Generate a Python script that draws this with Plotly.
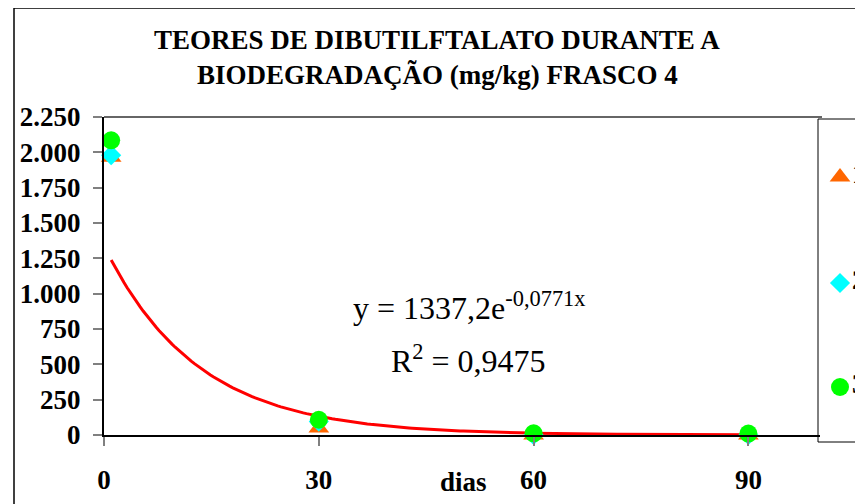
import numpy as np
import plotly.graph_objects as go

# ---- data ----
dias = [1, 30, 60, 90]
frasco_1 = [1965, 50, 0, 0]
frasco_2 = [1980, 95, 0, 0]
frasco_3 = [2085, 108, 12, 10]
series_names = ["1", "2", "3"]
fit_a = 1337.2
fit_b = -0.0771
fit_r2 = "0,9475"
x_tickvals = [0, 30, 60, 90]
x_ticktext = ["0", "30", "60", "90"]
y_tickvals = [0, 250, 500, 750, 1000, 1250, 1500, 1750, 2000, 2250]
y_ticktext = ["0", "250", "500", "750", "1.000", "1.250", "1.500", "1.750", "2.000", "2.250"]
title_lines = ["TEORES DE DIBUTILFTALATO DURANTE A", "BIODEGRADAÇÃO (mg/kg) FRASCO 4"]

# ---- layout geometry (page pixels) ----
W, H = 863, 504
OFF = 8  # default page body margin
FW, FH = W - OFF, H - OFF
L, R, T, B = 104, 820, 117, 435
FONT = "Liberation Serif"

def px(x):
    return (x - OFF) / FW

def py(y):
    return 1 - (y - OFF) / FH

fit_x = np.linspace(dias[0], dias[-1], 200)
fit_y = fit_a * np.exp(fit_b * fit_x)

fig = go.Figure()

fig.add_trace(go.Scatter(x=fit_x, y=fit_y, mode="lines",
                         line=dict(color="#ff0000", width=3),
                         showlegend=False, hoverinfo="skip"))

marker_styles = [
    dict(symbol="triangle-up", color="#ff6600", size=18),
    dict(symbol="diamond", color="#00ffff", size=15.5),
    dict(symbol="circle", color="#00ff00", size=18),
]
for name, vals, ms in zip(series_names, [frasco_1, frasco_2, frasco_3], marker_styles):
    fig.add_trace(go.Scatter(x=dias, y=vals, mode="markers", name=name,
                             marker=dict(symbol=ms["symbol"], color=ms["color"], size=ms["size"],
                                         line=dict(width=0)),
                             cliponaxis=False, showlegend=False))

# manual legend (markers + labels) in a small pixel-unit overlay axis
leg_y = [177, 283, 387]
for name, ms, ly in zip(series_names, marker_styles, leg_y):
    fig.add_trace(go.Scatter(x=[840], y=[ly], mode="markers", xaxis="x2", yaxis="y2",
                             marker=dict(symbol=ms["symbol"], color=ms["color"], size=ms["size"],
                                         line=dict(width=0)),
                             cliponaxis=False, showlegend=False, hoverinfo="skip"))
    fig.add_trace(go.Scatter(x=[852], y=[ly - 1], mode="text", xaxis="x2", yaxis="y2",
                             text=[f"<b>{name}</b>"], textposition="middle right",
                             textfont=dict(family=FONT, size=27, color="black"),
                             cliponaxis=False, showlegend=False, hoverinfo="skip"))

annotations = [
    dict(text=f"<b>{title_lines[0]}</b>", x=px(437), y=py(40), xref="paper", yref="paper",
         showarrow=False, xanchor="center", yanchor="middle", font=dict(size=27)),
    dict(text=f"<b>{title_lines[1]}</b>", x=px(437), y=py(75), xref="paper", yref="paper",
         showarrow=False, xanchor="center", yanchor="middle", font=dict(size=27)),
    dict(text="<b>dias</b>", x=px(463), y=py(482), xref="paper", yref="paper",
         showarrow=False, xanchor="center", yanchor="middle", font=dict(size=27)),
    dict(text="y = 1337,2e<sup>-0,0771x</sup>", x=px(469), y=py(306), xref="paper", yref="paper",
         showarrow=False, xanchor="center", yanchor="middle", font=dict(size=32)),
    dict(text=f"R<sup>2</sup> = {fit_r2}", x=px(468), y=py(359), xref="paper", yref="paper",
         showarrow=False, xanchor="center", yanchor="middle", font=dict(size=32)),
]

shapes = [
    # outer chart border
    dict(type="line", xref="paper", yref="paper", x0=px(14), x1=px(14), y0=py(8), y1=-0.2,
         line=dict(color="black", width=1.5)),
    dict(type="line", xref="paper", yref="paper", x0=px(14), x1=1.2, y0=py(8), y1=py(8),
         line=dict(color="black", width=1.5)),
    # top border of plot area
    dict(type="line", xref="paper", yref="paper", x0=px(L), x1=px(R + 2), y0=py(T), y1=py(T),
         line=dict(color="#333333", width=1.5)),
    # legend box
    dict(type="rect", xref="paper", yref="paper", x0=px(818), x1=1.2, y0=py(442), y1=py(119),
         line=dict(color="black", width=1), fillcolor="white", layer="below"),
]

fig.update_layout(
    width=FW, height=FH,
    margin=dict(l=0, r=0, t=0, b=0, autoexpand=False),
    paper_bgcolor="white", plot_bgcolor="rgba(0,0,0,0)",
    font=dict(family=FONT, color="black"),
    showlegend=False,
    xaxis=dict(domain=[px(L), px(R)], range=[0, 100], tickvals=x_tickvals, ticktext=x_ticktext,
               showgrid=False, zeroline=False, showline=True, linecolor="black", linewidth=2,
               ticks="outside", ticklen=9, tickwidth=2, tickcolor="#808080",
               ticklabelstandoff=11, automargin=False,
               tickfont=dict(family=FONT, size=27, color="black", weight="bold"),
               anchor="y"),
    yaxis=dict(domain=[py(B), py(T)], range=[0, 2250], tickvals=y_tickvals, ticktext=y_ticktext,
               showgrid=False, zeroline=False, showline=True, linecolor="black", linewidth=2,
               ticks="outside", ticklen=9, tickwidth=2, tickcolor="#808080",
               ticklabelstandoff=7, automargin=False,
               tickfont=dict(family=FONT, size=27, color="black", weight="bold"),
               anchor="x"),
    xaxis2=dict(domain=[px(818), 1], range=[818, W], visible=False, anchor="y2", automargin=False),
    yaxis2=dict(domain=[0, 1], range=[H, OFF], visible=False, anchor="x2", automargin=False),
    annotations=annotations,
    shapes=shapes,
)

fig.write_html("out.html")
